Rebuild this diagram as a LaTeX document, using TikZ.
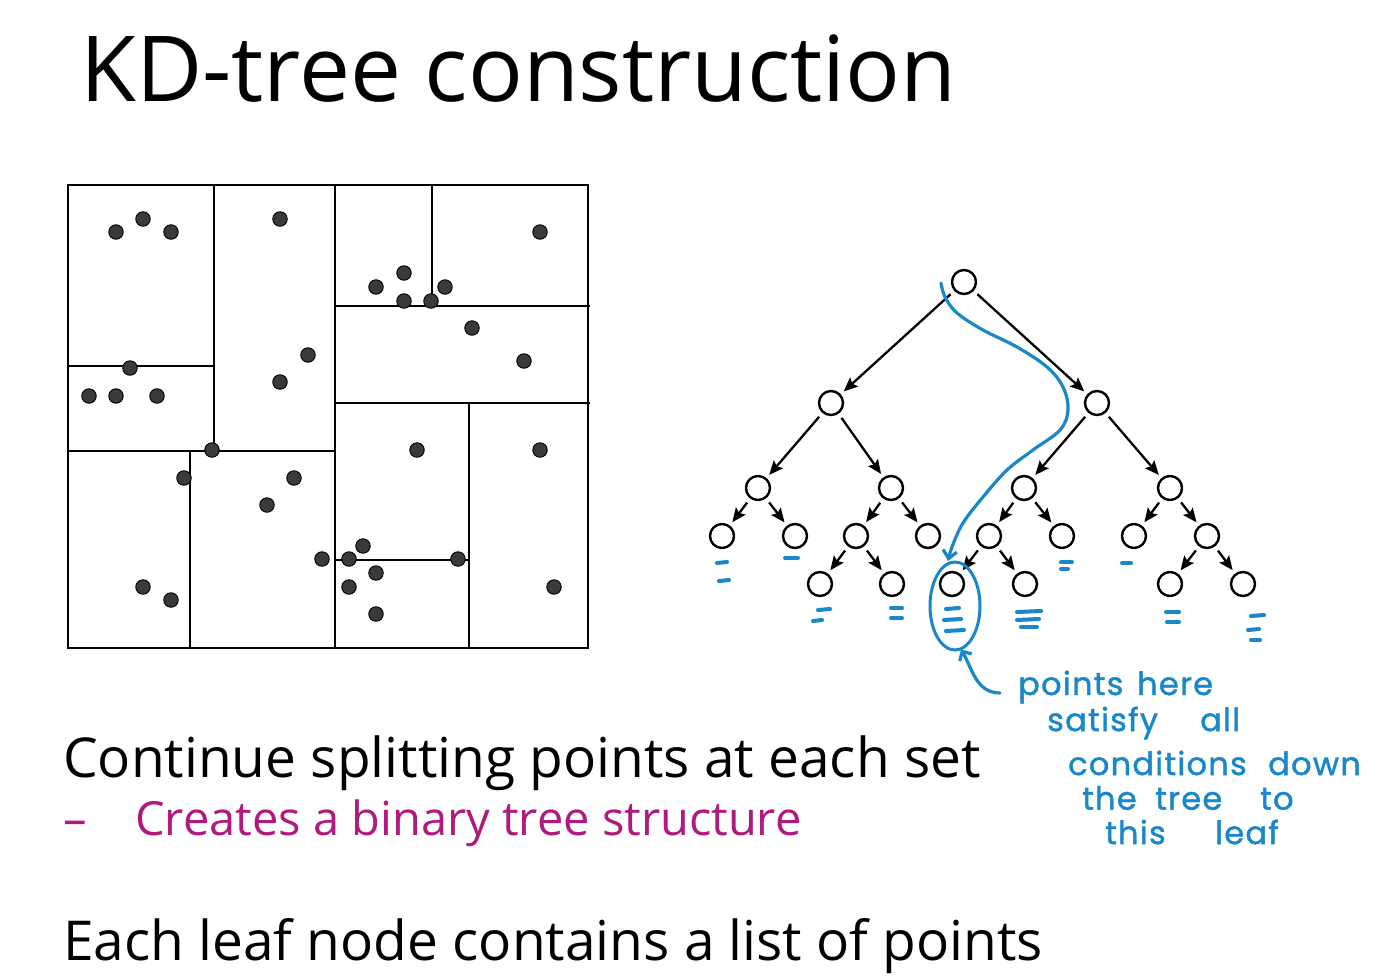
\documentclass[tikz,border=0pt]{standalone}
\usepackage{fontspec}
\setmainfont{Open Sans}
\newfontfamily\handfont[FakeBold=1.3,LetterSpace=4]{Poppins}
\usetikzlibrary{arrows.meta,shapes.geometric}
\definecolor{ink}{HTML}{1A87C9}
\definecolor{accent}{HTML}{B0197E}
\definecolor{dotfill}{HTML}{3A3A3A}
% a word that occupies a fixed advance, so the next word starts at a set place
\newcommand{\wordbox}[2]{\makebox[#1][l]{#2}}
\begin{document}
\begin{tikzpicture}[x=1pt,y=-1pt,
  treenode/.style={circle,draw=black,line width=2.4pt,minimum size=24pt,inner sep=0pt,fill=white},
  edge/.style={line width=2.3pt,-{Stealth[length=14pt,width=12pt,inset=2.5pt]},shorten <=5pt,shorten >=4pt},
  part/.style={line width=1.8pt},
  pt/.style={circle,fill=dotfill,draw=black,line width=0.9pt,minimum size=14.5pt,inner sep=0pt},
  pen/.style={draw=ink,line width=3.2pt,line cap=round,line join=round},
  tick/.style={draw=ink,line width=4pt,line cap=round},
  hand/.style={text=ink,font=\handfont\fontsize{32}{32}\selectfont,anchor=west,inner sep=0pt},
  body/.style={anchor=base west,inner sep=0pt,font=\fontsize{55}{55}\selectfont},
  subbody/.style={anchor=base west,inner sep=0pt,font=\fontsize{47}{47}\selectfont,text=accent},
]
\useasboundingbox[fill=white] (0,0) rectangle (1398,978);

% ---- title ----
\node[anchor=base west,inner sep=0pt,font=\fontsize{91}{91}\selectfont] (title) at (80,101) {KD-tree construction};

% ---- partitioned plane ----
\draw[line width=2pt] (68,185) rectangle (588,648);
\draw[part] (214,185) -- (214,451);
\draw[part] (68,366) -- (214,366);
\draw[part] (68,451) -- (335,451);
\draw[part] (190,451) -- (190,648);
\draw[part] (335,185) -- (335,648);
\draw[part] (432,185) -- (432,306);
\draw[part] (335,306) -- (590,306);
\draw[part] (335,403) -- (590,403);
\draw[part] (469,403) -- (469,648);
\draw[part] (335,560) -- (469,560);

\foreach \n/\px/\py in {1/116/232, 2/143/219, 3/171/232, 4/280/219, 5/540/232,
  6/404/273, 7/376/287, 8/445/287, 9/404/301, 10/431/301, 11/472/328, 12/524/361,
  13/308/355, 14/280/382, 15/130/368, 16/89/396, 17/116/396, 18/157/396,
  19/212/450, 20/184/478, 21/294/478, 22/267/505, 23/417/450, 24/540/450,
  25/363/546, 26/322/559, 27/349/559, 28/458/559, 29/376/573, 30/349/587,
  31/376/614, 32/143/587, 33/171/600, 34/554/587}
  \node[pt] (p\n) at (\px,\py) {};

% ---- tree ----
\node[treenode] (r) at (964,282) {};
\node[treenode] (L) at (831,403) {};
\node[treenode] (R) at (1097,403) {};
\node[treenode] (LL) at (758,488) {};
\node[treenode] (LR) at (891,488) {};
\node[treenode] (RL) at (1024,488) {};
\node[treenode] (RR) at (1170,488) {};
\node[treenode] (LLL) at (722,536) {};
\node[treenode] (LLR) at (795,536) {};
\node[treenode] (LRL) at (856,536) {};
\node[treenode] (LRR) at (928,536) {};
\node[treenode] (RLL) at (989,536) {};
\node[treenode] (RLR) at (1062,536) {};
\node[treenode] (RRL) at (1134,536) {};
\node[treenode] (RRR) at (1207,536) {};
\node[treenode] (LRLL) at (820,584) {};
\node[treenode] (LRLR) at (892,584) {};
\node[treenode] (RLLL) at (952,584) {};
\node[treenode] (RLLR) at (1025,584) {};
\node[treenode] (RRRL) at (1170,584) {};
\node[treenode] (RRRR) at (1243,584) {};

\foreach \p/\c in {r/L, r/R, L/LL, L/LR, R/RL, R/RR,
  LL/LLL, LL/LLR, LR/LRL, LR/LRR, RL/RLL, RL/RLR, RR/RRL, RR/RRR,
  LRL/LRLL, LRL/LRLR, RLL/RLLL, RLL/RLLR, RRR/RRRL, RRR/RRRR}
  \draw[edge] (\p) -- (\c);

% ---- point lists under the leaves ----
\draw[tick] (717,563) -- (727,562);
\draw[tick] (719,581) -- (729,580);
\draw[tick] (785,558) -- (798,558);
\draw[tick] (818,610) -- (830,609);
\draw[tick] (813,621) -- (822,620);
\draw[tick] (891,608) -- (902,608);
\draw[tick] (891,618) -- (902,618);
\draw[tick] (946,609) -- (959,608);
\draw[tick] (944,620) -- (961,619);
\draw[tick] (946,631) -- (964,630);
\draw[tick] (1017,612) -- (1041,611);
\draw[tick] (1017,620) -- (1039,619);
\draw[tick] (1021,627) -- (1037,627);
\draw[tick] (1061,562) -- (1072,562);
\draw[tick] (1061,569) -- (1068,569);
\draw[tick] (1122,563) -- (1131,563);
\draw[tick] (1166,612) -- (1179,612);
\draw[tick] (1167,622) -- (1179,622);
\draw[tick] (1251,616) -- (1264,615);
\draw[tick] (1248,630) -- (1259,629);
\draw[tick] (1251,640) -- (1260,640);

% ---- search path down to the marked leaf ----
\draw[pen,-{Straight Barb[length=8pt,width=14pt]}] plot[smooth,tension=0.6] coordinates {
  (941,283) (945,297) (957,313) (983,330) (1017,347) (1047,367) (1063,387)
  (1068,410) (1060,430) (1033,450) (1007,470) (983,497) (963,523) (952,547) (948,561)};

\node[draw=ink,line width=3pt,ellipse,minimum width=50pt,minimum height=88pt,inner sep=0pt] (mark) at (955,606) {};
\coordinate (callend) at (1000,693);
\draw[pen,{Straight Barb[length=7pt,width=14pt]}-] (mark.south) ++(6,-2) .. controls (972,668) and (976,693) .. (callend);

% ---- note ----
\node[hand] (n1) at (1018,687) {\wordbox{119pt}{points}here};
\node[hand] (n2) at (1047,723) {\wordbox{153pt}{satisfy}all};
\node[hand] (n3) at (1068,763) {\wordbox{200pt}{conditions}down};
\node[hand] (n4) at (1082,798) {\wordbox{73pt}{the}\wordbox{105pt}{tree}to};
\node[hand] (n5) at (1105,832) {\wordbox{110pt}{this}leaf};

% ---- bullet text ----
\node[body] (t1) at (63,777) {Continue splitting points at each set};
\node[subbody] (t2dash) at (63,835) {–};
\node[subbody] (t2) at (135,835) {Creates a binary tree structure};
\node[body] (t3) at (63,960) {Each leaf node contains a list of points};
\end{tikzpicture}
\end{document}
